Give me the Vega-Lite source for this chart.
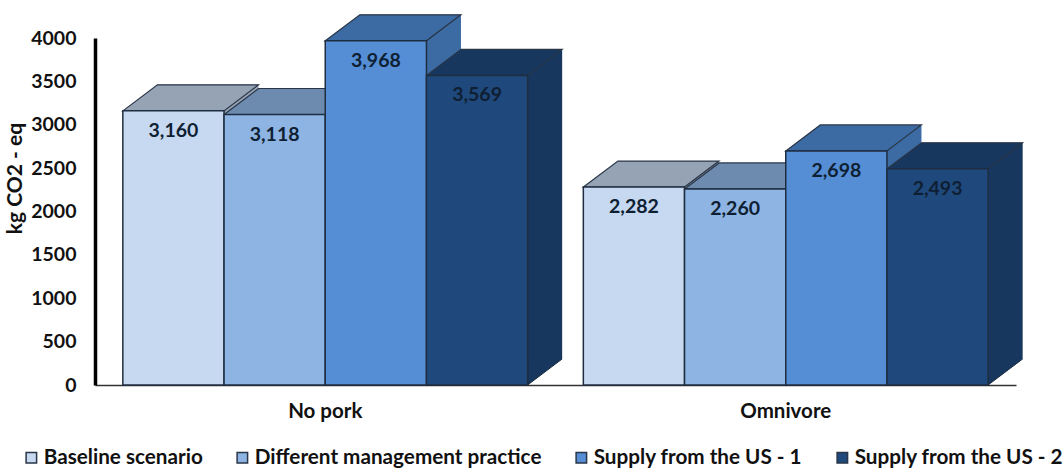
{
 "$schema":"https://vega.github.io/schema/vega-lite/v6.json",
 "autosize":{"type":"none"},
 "padding":{"left":95,"top":38,"right":47,"bottom":83},
 "width":921,"height":347,
 "background":"white",
 "config":{"view":{"stroke":null},"font":"Lato"},
 "data":{"values":[
  {"diet":"No pork","scenario":"Baseline scenario","kg":3160},
  {"diet":"No pork","scenario":"Different management practice","kg":3118},
  {"diet":"No pork","scenario":"Supply from the US - 1","kg":3968},
  {"diet":"No pork","scenario":"Supply from the US - 2","kg":3569},
  {"diet":"Omnivore","scenario":"Baseline scenario","kg":2282},
  {"diet":"Omnivore","scenario":"Different management practice","kg":2260},
  {"diet":"Omnivore","scenario":"Supply from the US - 1","kg":2698},
  {"diet":"Omnivore","scenario":"Supply from the US - 2","kg":2493}
 ]},
 "encoding":{
  "x":{"field":"diet","type":"nominal","title":null,"scale":{"paddingInner":0,"paddingOuter":0},
   "axis":{"labelAngle":0,"labelFontSize":20.5,"labelFontWeight":"bold","labelColor":"#111","tickSize":0,"labelPadding":16,"domainColor":"#333","domainWidth":1.5,"grid":false}},
  "xOffset":{"field":"scenario","type":"nominal","sort":null,"scale":{"type":"band","paddingInner":0,"paddingOuter":0.275,"range":[0,460.5]}},
  "y":{"field":"kg","type":"quantitative","stack":null,"title":"kg CO2 - eq","scale":{"domain":[0,4000],"nice":false},
   "axis":{"values":[0,500,1000,1500,2000,2500,3000,3500,4000],"format":"d","tickSize":0,"labelPadding":19,"labelFontSize":19.5,"labelFontWeight":"bold","labelColor":"#111","domainColor":"#000","domainWidth":3.5,"grid":false,"titleFontSize":21,"titleFontWeight":"bold","titleColor":"#111","titleX":-70,"titleY":140}}
 },
 "resolve":{"scale":{"xOffset":"independent"}},
 "layer":[
  {"mark":{"type":"bar","yOffset":-26,"y2Offset":-26},
   "encoding":{"y2":{"datum":0},"xOffset":{"field":"scenario","type":"nominal","sort":null,"scale":{"type":"band","paddingInner":0,"paddingOuter":0.275,"range":[34.5,495]}},
    "fill":{"field":"scenario","type":"nominal","sort":null,"legend":null,"scale":{"range":["#95A3B5","#6C8BAF","#3C6BA3","#17375E"]}}}},
  {"mark":{"type":"point","filled":true,"opacity":1,"size":4,"stroke":"#1a2a3f","strokeWidth":1,"shape":"M 85 -26 L 50.55 0 L 50.55 -26"},
   "encoding":{"y":{"datum":0},"fill":{"field":"scenario","type":"nominal","sort":null,"legend":null}}},
  {"mark":{"type":"point","filled":true,"opacity":1,"size":4,"stroke":"#2a3648","strokeWidth":1.2,"shape":"M -50.55 0 L -16 -26 L 85 -26 L 50.55 0 Z"},
   "encoding":{"fill":{"field":"scenario","type":"nominal","sort":null,"legend":null}}},
  {"mark":{"type":"bar","stroke":"#1f2d40","strokeWidth":1.5},
   "encoding":{"color":{"field":"scenario","type":"nominal","sort":null,"title":null,
     "scale":{"range":["#C6D9F1","#8DB4E2","#558ED5","#1F497D"]},
     "legend":{"orient":"none","legendX":-74,"legendY":409,"direction":"horizontal","columns":4,"symbolType":"square","symbolSize":110,"symbolStrokeColor":"#2a3648","symbolStrokeWidth":1.5,"symbolOpacity":1,"labelFontSize":20.7,"labelFontWeight":"bold","labelColor":"#111","labelOffset":2,"columnPadding":29,"labelLimit":400}}}},
  {"mark":{"type":"text","dy":20,"fontSize":19.5,"fontWeight":"bold","color":"#0f1f33"},
   "encoding":{"text":{"field":"kg","type":"quantitative","format":","}}}
 ]
}
